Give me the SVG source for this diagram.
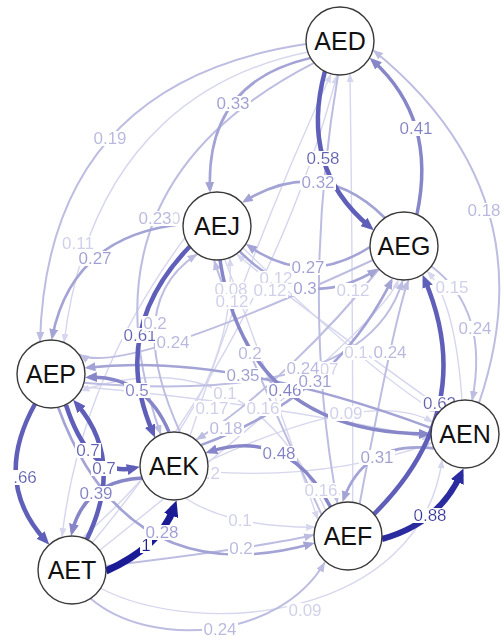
<svg xmlns="http://www.w3.org/2000/svg" width="502" height="639" viewBox="0 0 502 639">
<style>
.e{fill:none}
.kl{stroke:#D6D6EE;stroke-width:1.4;marker-end:url(#al)}
.k2{stroke:#BDBDE2;stroke-width:2;marker-end:url(#a2)}
.k3{stroke:#A3A3D6;stroke-width:2.6;marker-end:url(#a3)}
.k45{stroke:#8686C8;stroke-width:3.5;marker-end:url(#a45)}
.k6{stroke:#5F5FB9;stroke-width:4.5;marker-end:url(#a6)}
.k88{stroke:#2B2BA0;stroke-width:6;marker-end:url(#a88)}
.k1{stroke:#1B1B96;stroke-width:7;marker-end:url(#a1)}
.lb text{font-family:"Liberation Sans",Arial,sans-serif;font-size:17px;text-anchor:middle;filter:url(#bg)}
.tl{fill:#D0D0EB}.t2{fill:#B8B8E0}.t3{fill:#9E9ED4}.t45{fill:#8080C6}.t6{fill:#5F5FB5}.t88{fill:#3434A4}.t1{fill:#1B1B96}
.n circle{fill:#fff;stroke:#3a3a3a;stroke-width:1.4}
.n text{font-family:"Liberation Sans",Arial,sans-serif;font-size:25px;text-anchor:middle;fill:#111}
</style>
<defs>
<filter id="bg" x="-0.03" y="0.12" width="1.06" height="0.77"><feFlood flood-color="#fff" result="f"/><feComposite in="SourceGraphic" in2="f" operator="over"/></filter>
<marker id="al" markerUnits="userSpaceOnUse" markerWidth="9" markerHeight="7" refX="9" refY="3.5" orient="auto"><path d="M0,0L9,3.5L0,7z" fill="#D6D6EE"/></marker>
<marker id="a2" markerUnits="userSpaceOnUse" markerWidth="10" markerHeight="8" refX="10" refY="4" orient="auto"><path d="M0,0L10,4L0,8z" fill="#BDBDE2"/></marker>
<marker id="a3" markerUnits="userSpaceOnUse" markerWidth="11" markerHeight="9" refX="8" refY="4.5" orient="auto"><path d="M0,0L11,4.5L0,9z" fill="#A3A3D6"/></marker>
<marker id="a45" markerUnits="userSpaceOnUse" markerWidth="12" markerHeight="10" refX="8" refY="5" orient="auto"><path d="M0,0L12,5L0,10z" fill="#8686C8"/></marker>
<marker id="a6" markerUnits="userSpaceOnUse" markerWidth="13" markerHeight="11" refX="7.5" refY="5.5" orient="auto"><path d="M0,0L13,5.5L0,11z" fill="#5F5FB9"/></marker>
<marker id="a88" markerUnits="userSpaceOnUse" markerWidth="15" markerHeight="14" refX="8.5" refY="7" orient="auto"><path d="M0,0L15,7L0,14z" fill="#2B2BA0"/></marker>
<marker id="a1" markerUnits="userSpaceOnUse" markerWidth="16" markerHeight="15" refX="8.5" refY="7.5" orient="auto"><path d="M0,0L16,7.5L0,15z" fill="#1B1B96"/></marker>
</defs>
<g id="edges">
<path class="e kl" d="M308,52 C220,70 90,130 64,343"/>
<path class="e kl" d="M100,550 Q386.95,321.25 398.1,279.5"/>
<path class="e kl" d="M243,247.9 Q371.4,373.5 438.2,413.1"/>
<path class="e kl" d="M207.7,461.3 Q371.6,386.15 433.1,422.4"/>
<path class="e kl" d="M224.6,259.1 Q270,380 318,520"/>
<path class="e kl" d="M325.7,510.3 Q246.95,335.35 80.4,391"/>
<path class="e kl" d="M185,498 Q229.9,527.4 315.2,527.2"/>
<path class="e kl" d="M100,588 C200,640 420,620 442.2,459.3"/>
<path class="e kl" d="M462,400 Q455,300 427,271"/>
<path class="e kl" d="M352.7,502.3 Q353,290 350,73"/>
<path class="e kl" d="M442.2,408.7 Q290,300 236.5,253.9"/>
<path class="e kl" d="M82,538 Q240,400 229.7,257.5"/>
<path class="e kl" d="M92,543 Q270,330 337,75"/>
<path class="e kl" d="M207.5,471.9 Q330,480 432.2,442.8"/>
<path class="e kl" d="M185,237.6 Q80,380 62,537"/>
<path class="e kl" d="M190,436 Q250,250 331.2,73.8"/>
<path class="e kl" d="M82.5,386.7 Q269.1,403.3 431.3,438.7"/>
<path class="e k2" d="M306,44 Q47,83 40,342"/>
<path class="e k2" d="M479,403 Q550,193.5 373,50"/>
<path class="e k2" d="M314,62.9 Q72.5,187.05 161,435"/>
<path class="e k2" d="M373,260 Q120.05,376.75 78.9,354.5"/>
<path class="e k2" d="M180,432 Q121.25,303.05 197.5,253.9"/>
<path class="e k2" d="M321.6,514.6 Q232.2,318.75 214,259.9"/>
<path class="e k2" d="M83.8,382.8 Q366.7,406.6 402.8,280"/>
<path class="e k2" d="M359.6,504 Q395.85,312.15 408.7,279.7"/>
<path class="e k2" d="M379,269 C330,330 260,400 195.9,440"/>
<path class="e k2" d="M106,566 Q272,545.6 314,534.8"/>
<path class="e k2" d="M90,598 C150,650 280,640 325,562"/>
<path class="e k2" d="M431,266 Q490,310 472,401"/>
<path class="e k2" d="M338,75 Q300,300 337.5,503.7"/>
<path class="e k3" d="M310.6,58 Q205.7,82 210,190"/>
<path class="e k3" d="M385,218 Q321.25,154.4 244.5,201.2"/>
<path class="e k3" d="M183,224 Q72.4,235.5 52.2,337"/>
<path class="e k3" d="M431.5,428.1 Q226.55,352.15 87.4,367.6"/>
<path class="e k3" d="M200.8,445.1 Q333.95,397.05 391.3,280.8"/>
<path class="e k3" d="M434.2,448.4 Q365.15,440.15 343.5,499.3"/>
<path class="e k3" d="M58,407 Q127.1,594.65 311.8,543.7"/>
<path class="e k3" d="M370,247 Q306.75,287.75 248.4,245.6"/>
<path class="e k3" d="M239.7,251.3 Q302.15,315.25 376,270.2"/>
<path class="e k45" d="M417,214 Q437.2,118.75 372.6,60.5"/>
<path class="e k45" d="M169,432 Q145.05,375.35 88.9,377.3"/>
<path class="e k45" d="M220,260 Q246.5,433 427,434"/>
<path class="e k45" d="M330.5,506.9 Q288.15,426.65 209.2,451.8"/>
<path class="e k45" d="M142,478 Q85,481 72,532"/>
<path class="e k6" d="M325,71 Q298.7,167.2 369.6,226.6"/>
<path class="e k6" d="M189.8,246.5 Q108.65,330.45 152.9,432.6"/>
<path class="e k6" d="M66,405 Q90,478 134.5,468"/>
<path class="e k6" d="M87,539 Q125,460 76.7,404"/>
<path class="e k6" d="M35,404 Q-8.3,481.7 45.6,540.6"/>
<path class="e k6" d="M374,514.1 Q479.65,409.1 424.7,279.7"/>
<path class="e k88" d="M382,539 Q438.6,523.35 460.8,474.3"/>
<path class="e k1" d="M106,571 Q160,546.75 174,507.5"/>
</g>
<g id="labels" class="lb">
<text class="tl" x="171" y="224" style="text-anchor:start">0.12</text>
<text class="tl" x="220" y="479" style="text-anchor:end">0.2</text>
<text class="t2" x="110" y="144">0.19</text>
<text class="tl" x="78" y="249">0.11</text>
<text class="t3" x="233" y="109">0.33</text>
<text class="t6" x="323" y="164">0.58</text>
<text class="t45" x="416" y="134">0.41</text>
<text class="t3" x="318" y="188">0.32</text>
<text class="t2" x="484" y="216">0.18</text>
<text class="t3" x="95" y="264">0.27</text>
<text class="t2" x="155" y="224">0.23</text>
<text class="t6" x="140" y="341">0.61</text>
<text class="t2" x="155" y="329">0.2</text>
<text class="t2" x="173" y="348">0.24</text>
<text class="t45" x="137" y="396">0.5</text>
<text class="t3" x="243" y="381">0.35</text>
<text class="t45" x="285" y="396">0.46</text>
<text class="t2" x="250" y="359">0.2</text>
<text class="tl" x="322" y="375">0.07</text>
<text class="t2" x="303" y="374">0.24</text>
<text class="t3" x="315" y="387">0.31</text>
<text class="tl" x="356" y="358">0.1</text>
<text class="t2" x="390" y="358">0.24</text>
<text class="tl" x="346" y="419">0.09</text>
<text class="tl" x="263" y="414">0.16</text>
<text class="tl" x="225" y="399">0.1</text>
<text class="tl" x="212" y="414">0.17</text>
<text class="t2" x="226" y="434">0.18</text>
<text class="t45" x="279" y="459">0.48</text>
<text class="t6" x="88" y="456">0.7</text>
<text class="t6" x="104" y="474">0.7</text>
<text class="t6" x="25" y="483">.66</text>
<text class="t45" x="96" y="499">0.39</text>
<text class="t3" x="162" y="538">0.28</text>
<text class="t1" x="146" y="551">1</text>
<text class="tl" x="240" y="526">0.1</text>
<text class="t2" x="241" y="554">0.2</text>
<text class="t2" x="220" y="635">0.24</text>
<text class="tl" x="305" y="616">0.09</text>
<text class="tl" x="321" y="496">0.16</text>
<text class="t3" x="377" y="463">0.31</text>
<text class="t88" x="430" y="521">0.88</text>
<text class="t6" x="439.5" y="409">0.62</text>
<text class="tl" x="452" y="293">0.15</text>
<text class="t2" x="475" y="334">0.24</text>
<text class="t3" x="308" y="273">0.27</text>
<text class="tl" x="276" y="284">0.12</text>
<text class="tl" x="270" y="296">0.12</text>
<text class="t3" x="305" y="294">0.3</text>
<text class="tl" x="353" y="296">0.12</text>
<text class="tl" x="231" y="295">0.08</text>
<text class="tl" x="232" y="307">0.12</text>
</g>
<g id="AED" class="n"><circle cx="340" cy="41" r="34"/><text x="340" y="50">AED</text></g>
<g id="AEJ" class="n"><circle cx="217" cy="226" r="34"/><text x="217" y="235">AEJ</text></g>
<g id="AEG" class="n"><circle cx="404" cy="246" r="34"/><text x="404" y="255">AEG</text></g>
<g id="AEP" class="n"><circle cx="51" cy="374" r="34"/><text x="51" y="383">AEP</text></g>
<g id="AEK" class="n"><circle cx="174" cy="466" r="34"/><text x="174" y="475">AEK</text></g>
<g id="AEN" class="n"><circle cx="465" cy="434" r="34"/><text x="465" y="443">AEN</text></g>
<g id="AEF" class="n"><circle cx="348" cy="536" r="34"/><text x="348" y="545">AEF</text></g>
<g id="AET" class="n"><circle cx="72" cy="570" r="34"/><text x="72" y="579">AET</text></g>
</svg>
